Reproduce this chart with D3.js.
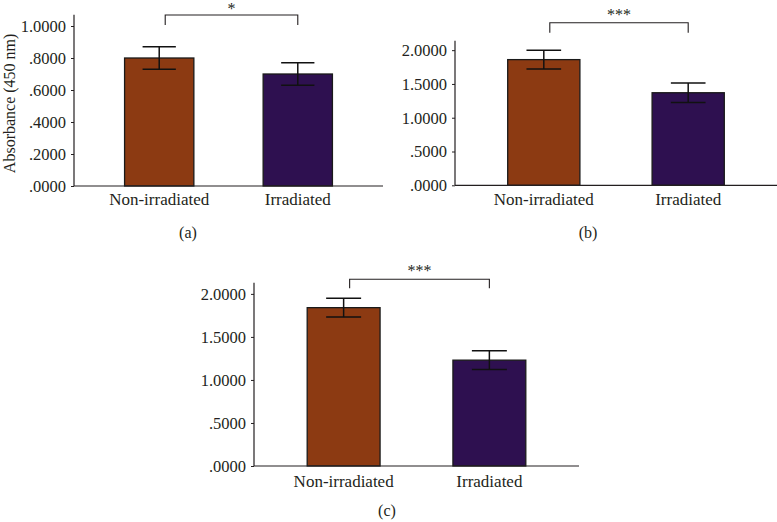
<!DOCTYPE html>
<html>
<head>
<meta charset="utf-8">
<script src="https://cdn.jsdelivr.net/npm/d3@7/dist/d3.min.js"></script>
<style>
html,body{margin:0;padding:0;background:#fff;}
svg{display:block;}
text{font-family:"Liberation Serif","Times New Roman",serif;fill:#231f20;}
</style>
</head>
<body>
<svg id="chart" width="777" height="522"></svg>
<script>
// ---- data ----
const categories = ["Non-irradiated", "Irradiated"];
const valuesA = [0.80, 0.70];
const errorsA = [0.07, 0.07];
const valuesB = [1.86, 1.37];
const errorsB = [0.14, 0.145];
const valuesC = [1.84, 1.23];
const errorsC = [0.11, 0.11];
const ticksA = [0, 0.2, 0.4, 0.6, 0.8, 1.0];
const ticksB = [0, 0.5, 1.0, 1.5, 2.0];
const ticksC = [0, 0.5, 1.0, 1.5, 2.0];
const significance = ["*", "***", "***"];
const captions = ["(a)", "(b)", "(c)"];
const yLabel = "Absorbance (450 nm)";
const colors = ["#8c3a12", "#2e1050"];

// ---- layout ----
const panels = [
  {values: valuesA, errors: errorsA, ticks: ticksA, sig: significance[0], cap: captions[0],
   x0: 74, x1: 383, y0: 186, y1: 14.8, yMax: 1.07, label: true,
   brY: 15, brDrop: 10, starY: 14, capX: 188, capY: 238, xLabY: 205},
  {values: valuesB, errors: errorsB, ticks: ticksB, sig: significance[1], cap: captions[1],
   x0: 455, x1: 777, y0: 185.3, y1: 40.7, yMax: 2.14, label: false,
   brY: 22.7, brDrop: 10, starY: 20, capX: 588, capY: 238, xLabY: 205},
  {values: valuesC, errors: errorsC, ticks: ticksC, sig: significance[2], cap: captions[2],
   x0: 254, x1: 579, y0: 466, y1: 282.7, yMax: 2.13, label: false,
   brY: 279.3, brDrop: 9, starY: 276, capX: 387, capY: 516, xLabY: 487}
];

const svg = d3.select("#chart");
const fmt = v => d3.format(".4f")(v).replace(/^0/, "");

panels.forEach(p => {
  const g = svg.append("g");
  const x = d3.scaleBand().domain(categories).range([p.x0, p.x1])
    .paddingInner(0.5).paddingOuter(0.365);
  const y = d3.scaleLinear().domain([0, p.yMax]).range([p.y0, p.y1]);

  // bars
  g.selectAll("rect.bar").data(categories).join("rect")
    .attr("x", d => x(d)).attr("width", x.bandwidth())
    .attr("y", (d, i) => y(p.values[i]))
    .attr("height", (d, i) => y(0) - y(p.values[i]))
    .attr("fill", (d, i) => colors[i])
    .attr("stroke", "#1a1a1a").attr("stroke-width", 1.3);

  // error bars
  const capW = x.bandwidth() * 0.48;
  categories.forEach((c, i) => {
    const cx = x(c) + x.bandwidth() / 2;
    const hi = y(p.values[i] + p.errors[i]);
    const lo = y(p.values[i] - p.errors[i]);
    g.append("line").attr("x1", cx).attr("x2", cx).attr("y1", hi).attr("y2", lo)
      .attr("stroke", "#111").attr("stroke-width", 1.5);
    [hi, lo].forEach(yy => g.append("line")
      .attr("x1", cx - capW / 2).attr("x2", cx + capW / 2).attr("y1", yy).attr("y2", yy)
      .attr("stroke", "#111").attr("stroke-width", 1.5));
  });

  // y axis
  const yAxis = d3.axisLeft(y).tickValues(p.ticks).tickFormat(fmt).tickSize(3).tickPadding(5);
  const ya = g.append("g").attr("transform", `translate(${p.x0},0)`).call(yAxis);
  ya.attr("font-family", null);
  ya.select(".domain").attr("stroke", "#231f20").attr("stroke-width", 1.2).attr("d", `M0,${p.y0}V${p.y1}`);
  ya.selectAll(".tick line").attr("stroke", "#231f20");
  ya.selectAll(".tick text").attr("font-size", 16.5).attr("fill", "#231f20");

  // x axis
  const xAxis = d3.axisBottom(x).tickSize(0).tickPadding(0);
  const xa = g.append("g").attr("transform", `translate(0,${p.y0})`).call(xAxis);
  xa.attr("font-family", null);
  xa.select(".domain").attr("stroke", "#231f20").attr("stroke-width", 1.2).attr("d", `M${p.x0},0H${p.x1}`);
  xa.selectAll(".tick text").attr("font-size", 17)
    .attr("fill", "#231f20").attr("dy", null).attr("y", p.xLabY - p.y0);

  // significance bracket
  const bx1 = x(categories[0]) + x.bandwidth() / 2 + 6;
  const bx2 = x(categories[1]) + x.bandwidth() / 2;
  g.append("path")
    .attr("d", `M${bx1},${p.brY + p.brDrop}V${p.brY}H${bx2}V${p.brY + p.brDrop}`)
    .attr("fill", "none").attr("stroke", "#231f20").attr("stroke-width", 1.1);
  g.append("text").attr("x", (bx1 + bx2) / 2).attr("y", p.starY)
    .attr("text-anchor", "middle").attr("font-size", 16).attr("fill", "#555").text(p.sig);

  // caption
  g.append("text").attr("x", p.capX).attr("y", p.capY).attr("text-anchor", "middle")
    .attr("font-size", 16).text(p.cap);

  if (p.label) {
    g.append("text")
      .attr("transform", `translate(15,${(p.y0 + p.y1) / 2 + 3}) rotate(-90)`)
      .attr("text-anchor", "middle").attr("font-size", 16).text(yLabel);
  }
});
</script>
</body>
</html>
